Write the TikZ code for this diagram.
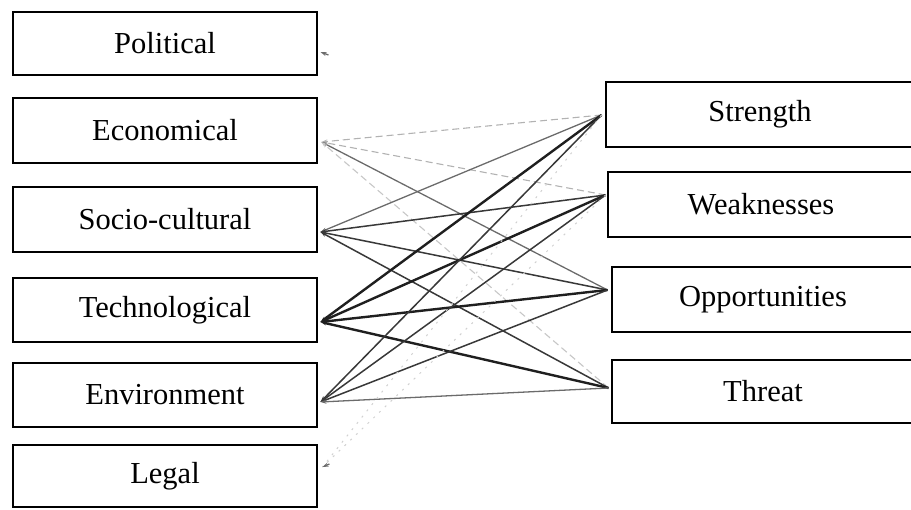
\documentclass[tikz,border=0pt]{standalone}
\usepackage{fontspec}
\setmainfont{Liberation Serif}
\usetikzlibrary{arrows.meta,calc}
\begin{document}
\begin{tikzpicture}[x=1pt,y=-1pt,
  box/.style={draw, line width=2.9pt, inner sep=0pt,
    font=\fontsize{30.5}{36}\selectfont},
  tip/.style={-{Stealth[length=6pt,width=4pt]}},
  heavy/.style={line width=2.4pt, black!88},
  mid/.style={line width=1.5pt, black!78},
  soft/.style={line width=1.3pt, black!58},
  faint/.style={line width=1.1pt, black!30, dash pattern=on 7pt off 4pt},
  dotline/.style={line width=1pt, black!18, dash pattern=on 2pt off 6pt}]
\useasboundingbox (0,0) rectangle (911,510);

% PESTEL factors
\node[box, minimum width=304pt, minimum height=63pt] (pol)   at (165,43.5)  {Political};
\node[box, minimum width=304pt, minimum height=65pt] (eco)   at (165,130.5) {Economical};
\node[box, minimum width=304pt, minimum height=65pt] (soc)   at (165,219.5) {Socio-cultural};
\node[box, minimum width=304pt, minimum height=64pt] (tech)  at (165,310)   {Technological};
\node[box, minimum width=304pt, minimum height=64pt] (env)   at (165,395)   {Environment};
\node[box, minimum width=304pt, minimum height=62pt] (legal) at (165,476)   {Legal};

% SWOT elements
\node[box, minimum width=308pt, minimum height=65pt] (str)  at (760,114.5) {Strength};
\node[box, minimum width=306pt, minimum height=65pt] (weak) at (761,204.5) {Weaknesses};
\node[box, minimum width=302pt, minimum height=65pt] (opp)  at (763,299.5) {Opportunities};
\node[box, minimum width=302pt, minimum height=63pt] (thr)  at (763,391.5) {Threat};

% connection points
\coordinate (polA)  at ($(pol.east)+(2,8.5)$);
\coordinate (ecoA)  at ($(eco.east)+(3,11.5)$);
\coordinate (socA)  at ($(soc.east)+(2,12.5)$);
\coordinate (techA) at ($(tech.east)+(2,12)$);
\coordinate (envA)  at ($(env.east)+(2,7)$);
\coordinate (legA)  at ($(legal.east)+(4,-9)$);
\coordinate (strA)  at ($(str.west)+(-3,0.5)$);
\coordinate (weakA) at ($(weak.west)+(-1,-9.5)$);
\coordinate (oppA)  at ($(opp.west)+(-3,-9.5)$);
\coordinate (thrA)  at ($(thr.west)+(-2,-3.5)$);
\coordinate (polT)  at ($(polA)+(8,3)$);
\coordinate (legT)  at ($(legA)+(7,-3)$);

% Political: arrow stub only
\draw[soft, tip] (polT) -- (polA);

% Economical
\draw[faint, tip] (strA) -- (ecoA);
\draw[faint, tip] (weakA) -- (ecoA);
\draw[soft, tip] (oppA) -- (ecoA);
\draw[faint, black!22, tip] (thrA) -- (ecoA);

% Socio-cultural
\draw[soft, tip] (strA) -- (socA);
\draw[mid, tip] (weakA) -- (socA);
\draw[mid, tip] (oppA) -- (socA);
\draw[mid, tip] (thrA) -- (socA);

% Technological
\draw[heavy, tip] (strA) -- (techA);
\draw[heavy, tip] (weakA) -- (techA);
\draw[heavy, tip] (oppA) -- (techA);
\draw[heavy, tip] (thrA) -- (techA);

% Environment
\draw[mid, tip] (strA) -- (envA);
\draw[mid, tip] (weakA) -- (envA);
\draw[mid, tip] (oppA) -- (envA);
\draw[soft, tip] (thrA) -- (envA);

% Legal
\draw[dotline] (strA) -- (legA);
\draw[dotline] (weakA) -- (legA);
\draw[soft, tip] (legT) -- (legA);
\end{tikzpicture}
\end{document}
